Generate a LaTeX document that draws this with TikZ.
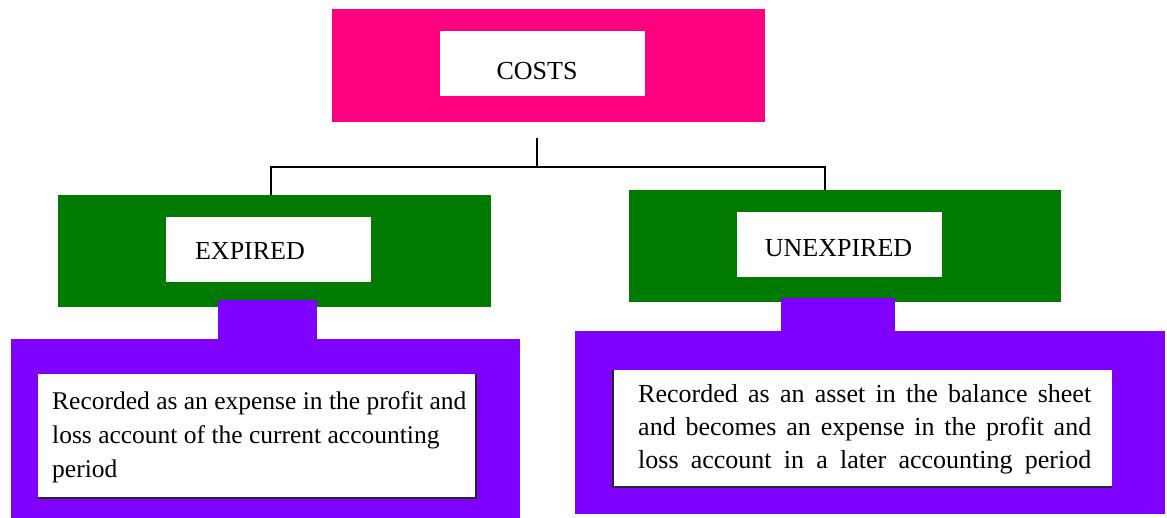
\documentclass[tikz,border=0pt]{standalone}
\usepackage{fontspec}
\setmainfont{Liberation Serif}
\usepackage{xcolor}
\usepackage{tikz}
\definecolor{costpink}{RGB}{255,0,128}
\definecolor{costgreen}{RGB}{0,122,0}
\definecolor{costviolet}{RGB}{128,0,255}
\tikzset{
  solidbox/.style={
    rectangle, inner sep=0pt, outer sep=0pt
  },
  headbox/.style={
    solidbox, fill=costpink, minimum width=433pt, minimum height=113pt
  },
  kindbox/.style={
    solidbox, fill=costgreen, minimum width=433pt, minimum height=112pt
  },
  tabbox/.style={
    solidbox, fill=costviolet, minimum height=40pt
  },
  notebox/.style={
    solidbox, fill=costviolet
  },
  whitebox/.style={
    solidbox, fill=white, minimum width=205pt, minimum height=65pt
  },
  boxlabel/.style={
    font=\fontsize{26}{30}\selectfont, inner sep=0pt
  },
  notetext/.style={
    inner sep=0pt, anchor=north west
  },
  treeline/.style={draw=black, line width=2pt},
  shadeline/.style={draw=black!85, line width=1.6pt},
}

\begin{document}
\begin{tikzpicture}[x=1pt, y=-1pt]
  \useasboundingbox (0,0) rectangle (1167,518);
  \fill[white] (0,0) rectangle (1167,518);

  % Costs
  \node[headbox] (costs) at (548.5,65.5) {};
  \node[whitebox] (costsin) at (542.5,64) {};
  \node[boxlabel] (costslbl) at (537,71) {COSTS};

  % Expired
  \node[kindbox] (expired) at (274.5,251) {};
  \node[whitebox] (expiredin) at (268.5,249.5) {};
  \node[boxlabel] (expiredlbl) at (250,251) {EXPIRED};

  % Unexpired
  \node[kindbox, minimum width=432pt] (unexpired) at (845,246) {};
  \node[whitebox] (unexpiredin) at (839.5,244.5) {};
  \node[boxlabel] (unexpiredlbl) at (838.5,248) {UNEXPIRED};

  % Tree lines
  \coordinate (fork) at (537,138);
  \draw[treeline] (fork) -- ++(0,29) -| ([xshift=-3.5pt]expired.north);
  \draw[treeline] (fork) -- ++(0,29) -| ([xshift=-20pt]unexpired.north);

  % Expired note
  \node[tabbox, minimum width=99pt, minimum height=39pt] (exptab) at (267.5,319.5) {};
  \node[notebox, minimum width=509pt, minimum height=179pt] (expbox) at (265.5,428.5) {};
  \node[solidbox, fill=white, minimum width=438pt, minimum height=124pt] (expnote) at (257,436) {};
  \draw[shadeline] (expnote.north east) -- (expnote.south east) -- (expnote.south west);
  \node[notetext, font=\fontsize{25.5}{34}\selectfont, align=left] (exptxt) at (52,391)
    {Recorded as an expense in the profit and\\
     loss account of the current accounting\\
     period};

  % Unexpired note
  \node[tabbox, minimum width=114pt, minimum height=33pt] (unexptab) at (838,314.5) {};
  \node[notebox, minimum width=590pt, minimum height=183pt] (unexpbox) at (870,422.5) {};
  \node[solidbox, fill=white, minimum width=499pt, minimum height=117pt] (unexpnote) at (862.5,428.5) {};
  \draw[shadeline] (unexpnote.north west) -- (unexpnote.south west) -- (unexpnote.south east);
  \node[notetext, font=\fontsize{26}{33}\selectfont, text width=453pt, align=justify] (unexptxt) at (638,384)
    {\parfillskip=0pt Recorded as an asset in the balance sheet\linebreak
     and becomes an expense in the profit and\linebreak
     loss account in a later accounting period\par};
\end{tikzpicture}
\end{document}
